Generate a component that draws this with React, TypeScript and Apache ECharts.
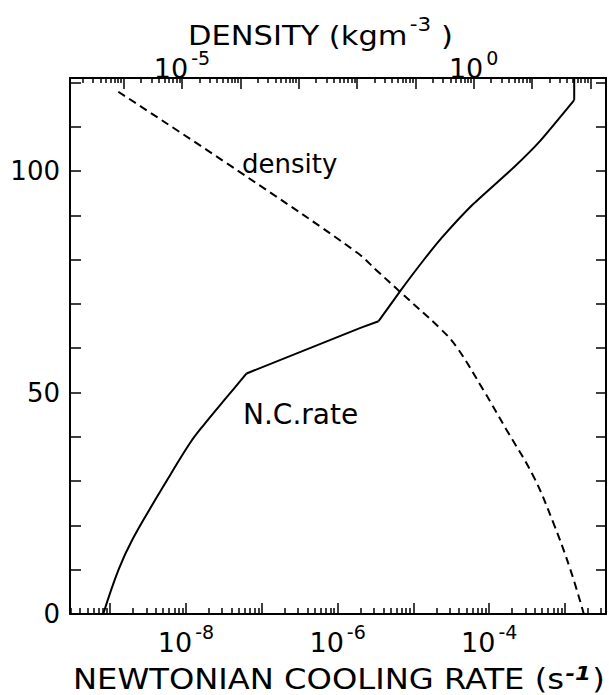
import React, { useEffect, useRef } from 'react';
import * as echarts from 'echarts';

// N.C. rate curve: Newtonian cooling rate (s^-1) vs height
const ncRate = [8.1e-10, 1.29e-9, 1.95e-9, 4.17e-9, 6.2e-9, 1.12e-8, 1.7e-8, 3.47e-8, 6.3e-8, 2.0e-6, 3.47e-6, 6.76e-6, 1.35e-5, 2.5e-5, 6.2e-5, 2.1e-4, 4.7e-4, 1.32e-3, 1.32e-3];
const ncHeight = [0, 10.0, 16.7, 26.5, 31.4, 38.5, 42.6, 49.0, 54.3, 64.6, 66.1, 73.0, 79.8, 85.4, 92.6, 100.8, 106.8, 116.0, 121];
// index ranges [from, to, smoothness] of the pieces between the curve's sharp corners
const ncPieces = [[0, 8, 0.4], [8, 10, 0], [10, 17, 0.15], [17, 18, 0]];

// density curve: density (kg m^-3) vs height
const density = [8.1e-7, 1.0e-4, 1.0e-2, 2.2e-2, 5.5e-2, 0.27, 0.51, 1.48, 3.7, 10.7, 23.4, 45.7, 77.6];
const densityHeight = [117.9, 99.7, 81.6, 77.5, 72.7, 64.4, 60.3, 50.5, 41.5, 31.0, 20.5, 10.0, 0];

// axes (log10 exponents for the log axes)
const rateRange = [-9.53, -2.46];
const rateMajorExp = [-9, -8, -7, -6, -5, -4, -3];
const rateLabelExp = [-8, -6, -4];
const densityRange = [-6.92, 2.27];
const densityMajorExp = [-6, -5, -4, -3, -2, -1, 0, 1, 2];
const densityLabelExp = [-5, 0];
const heightRange = [0, 121];
const heightTicks = [0, 10, 20, 30, 40, 50, 60, 70, 80, 90, 100, 110, 120];
const heightLabels = [0, 50, 100];

const FONT = 'DejaVu Sans';

function minorTicks(lo: number, hi: number): number[] {
  const out: number[] = [];
  for (let n = Math.floor(lo) - 1; n <= Math.ceil(hi); n++) {
    for (let k = 2; k <= 9; k++) {
      const v = n + Math.log10(k);
      if (v > lo && v < hi) out.push(v);
    }
  }
  return out;
}

const supRich = {
  b: { fontFamily: FONT, fontSize: 27, lineHeight: 34, color: '#000', verticalAlign: 'bottom' },
  s: { fontFamily: FONT, fontSize: 19, lineHeight: 14, color: '#000', verticalAlign: 'top', padding: [0, 0, 0, 3] },
};
const supFormatter = (v: number) => `{b|10}{s|${Math.round(v)}}`;

const black = '#000';

export default function App() {
  const ref = useRef<HTMLDivElement>(null);
  useEffect(() => {
    document.body.style.margin = '0';
    const chart = echarts.init(ref.current!, undefined, { renderer: 'svg' });
    const tickStyle = { color: black, width: 1.5 };
    const ncSeries = ncPieces.map(([a, b, sm]) => ({
      name: 'N.C.rate', type: 'line', xAxisIndex: 0, yAxisIndex: 0,
      symbol: 'none', showSymbol: false, smooth: sm || false,
      lineStyle: { color: black, width: 2 },
      data: ncRate.slice(a, b + 1).map((r, i) => [Math.log10(r), ncHeight[a + i]]),
      z: 5,
    }));
    const option: any = {
      animation: false,
      backgroundColor: '#fff',
      grid: { left: 70, right: 3, top: 78, bottom: 81 },
      xAxis: [
        {
          type: 'value', position: 'bottom', min: rateRange[0], max: rateRange[1],
          axisLine: { show: true, onZero: false, lineStyle: { color: black, width: 2 } },
          axisTick: { show: true, inside: true, length: 11, customValues: rateMajorExp, lineStyle: tickStyle },
          axisLabel: { show: true, margin: 8, customValues: rateLabelExp, formatter: supFormatter, rich: supRich },
          splitLine: { show: false },
        },
        {
          type: 'value', position: 'bottom', min: rateRange[0], max: rateRange[1],
          axisLine: { show: false, onZero: false },
          axisTick: { show: true, inside: true, length: 6, customValues: minorTicks(rateRange[0], rateRange[1]), lineStyle: tickStyle },
          axisLabel: { show: false },
          splitLine: { show: false },
        },
        {
          type: 'value', position: 'top', min: densityRange[0], max: densityRange[1],
          axisLine: { show: true, onZero: false, lineStyle: { color: black, width: 2 } },
          axisTick: { show: true, inside: true, length: 11, customValues: densityMajorExp, lineStyle: tickStyle },
          axisLabel: { show: true, margin: -4, customValues: densityLabelExp, formatter: supFormatter, rich: supRich },
          splitLine: { show: false },
        },
        {
          type: 'value', position: 'top', min: densityRange[0], max: densityRange[1],
          axisLine: { show: false, onZero: false },
          axisTick: { show: true, inside: true, length: 5, customValues: minorTicks(densityRange[0], densityRange[1]), lineStyle: tickStyle },
          axisLabel: { show: false },
          splitLine: { show: false },
        },
      ],
      yAxis: [
        {
          type: 'value', position: 'left', min: heightRange[0], max: heightRange[1],
          axisLine: { show: true, onZero: false, lineStyle: { color: black, width: 2 } },
          axisTick: { show: true, inside: true, length: 11, customValues: heightTicks, lineStyle: tickStyle },
          axisLabel: { show: true, margin: 10, customValues: heightLabels, color: black, fontFamily: FONT, fontSize: 26 },
          splitLine: { show: false },
        },
        {
          type: 'value', position: 'right', min: heightRange[0], max: heightRange[1],
          axisLine: { show: true, onZero: false, lineStyle: { color: black, width: 2 } },
          axisTick: { show: true, inside: true, length: 10, customValues: heightTicks, lineStyle: tickStyle },
          axisLabel: { show: false },
          splitLine: { show: false },
        },
      ],
      series: [
        ...ncSeries,
        {
          name: 'density', type: 'line', xAxisIndex: 2, yAxisIndex: 0,
          symbol: 'none', showSymbol: false, smooth: 0.4,
          lineStyle: { color: black, width: 2, type: [8, 5] },
          data: density.map((d, i) => [Math.log10(d), densityHeight[i]]),
          z: 5,
        },
      ],
      graphic: [
        {
          type: 'text', x: 188, y: 15, scaleX: 1.13,
          style: {
            text: '{m|DENSITY (kgm}{s|-3}{m| )}', verticalAlign: 'top', align: 'left',
            rich: {
              m: { fontFamily: FONT, fontSize: 27, lineHeight: 34, fill: black, verticalAlign: 'bottom' },
              s: { fontFamily: FONT, fontSize: 19, lineHeight: 14, fill: black, verticalAlign: 'top', padding: [0, 0, 0, 2] },
            },
          },
        },
        {
          type: 'text', x: 73, y: 669, scaleX: 1.15,
          style: {
            text: '{m|NEWTONIAN COOLING RATE (s}{s|-1}{m|)}', verticalAlign: 'top', align: 'left',
            rich: {
              m: { fontFamily: FONT, fontSize: 28, lineHeight: 24, fill: black, verticalAlign: 'bottom' },
              s: { fontFamily: FONT, fontSize: 20, lineHeight: 4, fill: black, verticalAlign: 'bottom', padding: [0, 1, 10, 1], fontStyle: 'italic', fontWeight: 'bold' },
            },
          },
        },
        {
          type: 'text', x: 242, y: 164,
          style: { text: 'density', fontFamily: FONT, fontSize: 26, fill: black, verticalAlign: 'middle', align: 'left' },
        },
        {
          type: 'text', x: 243, y: 414,
          style: { text: 'N.C.rate', fontFamily: FONT, fontSize: 28, fill: black, verticalAlign: 'middle', align: 'left' },
        },
      ],
    };
    chart.setOption(option);
    return () => chart.dispose();
  }, []);
  return <div ref={ref} style={{ position: 'fixed', left: 0, top: 0, width: 609, height: 695 }} />;
}
